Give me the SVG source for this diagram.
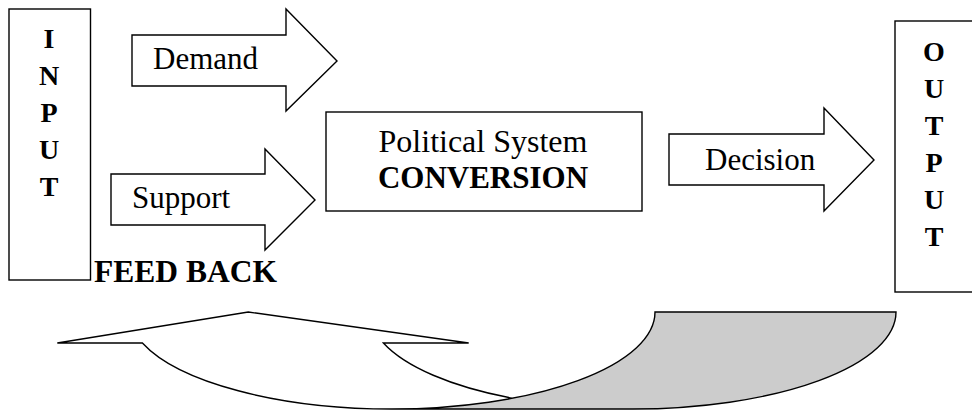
<svg xmlns="http://www.w3.org/2000/svg" width="972" height="412" viewBox="0 0 972 412">
<style>
.ln{fill:none;stroke:#000;stroke-width:1.4;stroke-linejoin:miter}
.box{fill:#fff;stroke:#000;stroke-width:1.4}
.t{font-family:"Liberation Serif","Times New Roman",serif;fill:#000}
.b{font-weight:bold}
.let{font-family:"Liberation Serif","Times New Roman",serif;font-weight:bold;font-size:28px;text-anchor:middle}
</style>
<rect width="972" height="412" fill="#fff"/>
<g id="input">
<rect class="box" x="9" y="9" width="81.5" height="271"/>
<text class="let" x="49" y="48">I</text>
<text class="let" x="49" y="85">N</text>
<text class="let" x="49" y="122">P</text>
<text class="let" x="49" y="159">U</text>
<text class="let" x="49" y="196">T</text>
</g>
<g id="output">
<rect class="box" x="895" y="21" width="90" height="271"/>
<text class="let" x="934" y="61">O</text>
<text class="let" x="934" y="98">U</text>
<text class="let" x="934" y="135">T</text>
<text class="let" x="934" y="172">P</text>
<text class="let" x="934" y="209">U</text>
<text class="let" x="934" y="246">T</text>
</g>
<g id="conversion">
<rect class="box" x="326" y="112" width="316" height="99"/>
<text class="t" x="483" y="152" font-size="32" text-anchor="middle">Political System</text>
<text class="t b" x="483" y="188" font-size="31" text-anchor="middle">CONVERSION</text>
</g>
<g id="connectors">
<g id="demand">
<path class="box" d="M132 35 H286 V9 L337 61 L286 111 V86 H132 Z"/>
<text class="t" x="153" y="69" font-size="31">Demand</text>
</g>
<g id="support">
<path class="box" d="M111 174 H265 V149 L315 200 L265 250 V225 H111 Z"/>
<text class="t" x="132" y="208" font-size="31">Support</text>
</g>
<g id="decision">
<path class="box" d="M669 134 H824 V108 L874 160 L824 211 V185 H669 Z"/>
<text class="t" x="705" y="170" font-size="31">Decision</text>
</g>
<g id="feedback">
<path fill="#fff" d="M248.3 312 L57.3 343 L142.4 343 A263.2 97 0 0 0 512.3 398.24 A263.2 97 0 0 1 383.4 343 L468.7 343 Z"/>
<path fill="#cccccc" d="M632.8 409 A263.2 97 0 0 0 896 312 L655 312 A263.2 97 0 0 1 391.8 409 Z"/>
<path class="ln" d="M512.3 398.24 A263.2 97 0 0 1 383.4 343 L468.7 343 L248.3 312 L57.3 343 L142.4 343 A263.2 97 0 0 0 391.8 409 L632.8 409 A263.2 97 0 0 0 896 312 L655 312 A263.2 97 0 0 1 391.8 409"/>
</g>
</g>
<text class="t b" x="94" y="282" font-size="31.5">FEED BACK</text>
</svg>
